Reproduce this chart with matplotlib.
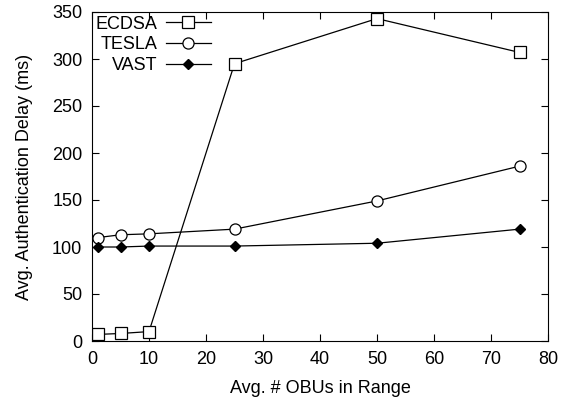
import matplotlib
matplotlib.use('Agg')
import matplotlib.pyplot as plt

plt.rcParams['font.family'] = ['Liberation Sans', 'DejaVu Sans']

obus = [1, 5, 10, 25, 50, 75]
ecdsa = [7, 8, 10, 295, 343, 307]
tesla = [110, 113, 114, 119, 149, 186]
vast = [100, 100, 101, 101, 104, 119]

fig = plt.figure(figsize=(5.7, 4.03), dpi=100)
ax = fig.add_axes([92/570, 1-341/403, (548-92)/570, (341-12)/403])

ax.plot(obus, ecdsa, 'k-', lw=0.9, marker='s', mfc='white', mec='black', ms=8, mew=0.9, label='ECDSA')
ax.plot(obus, tesla, 'k-', lw=0.9, marker='o', mfc='white', mec='black', ms=8, mew=0.9, label='TESLA')
ax.plot(obus, vast, 'k-', lw=0.9, marker='D', mfc='black', mec='black', ms=5.5, label='VAST')

ax.set_xlim(0, 80)
ax.set_ylim(0, 350)
ax.set_xticks(range(0, 81, 10))
ax.set_yticks(range(0, 351, 50))
ax.tick_params(direction='in', top=True, right=True, labelsize=13, length=5, pad=7)
ax.set_xlabel('Avg. # OBUs in Range', fontsize=13, labelpad=9)
ax.set_ylabel('Avg. Authentication Delay (ms)', fontsize=13, labelpad=14)

ax.legend(loc='upper left', frameon=False, markerfirst=False, fontsize=13,
          handlelength=2.5, borderaxespad=0.0, labelspacing=0.2, handletextpad=0.45,
          borderpad=0.2)

fig.savefig('out.png', dpi=100)
